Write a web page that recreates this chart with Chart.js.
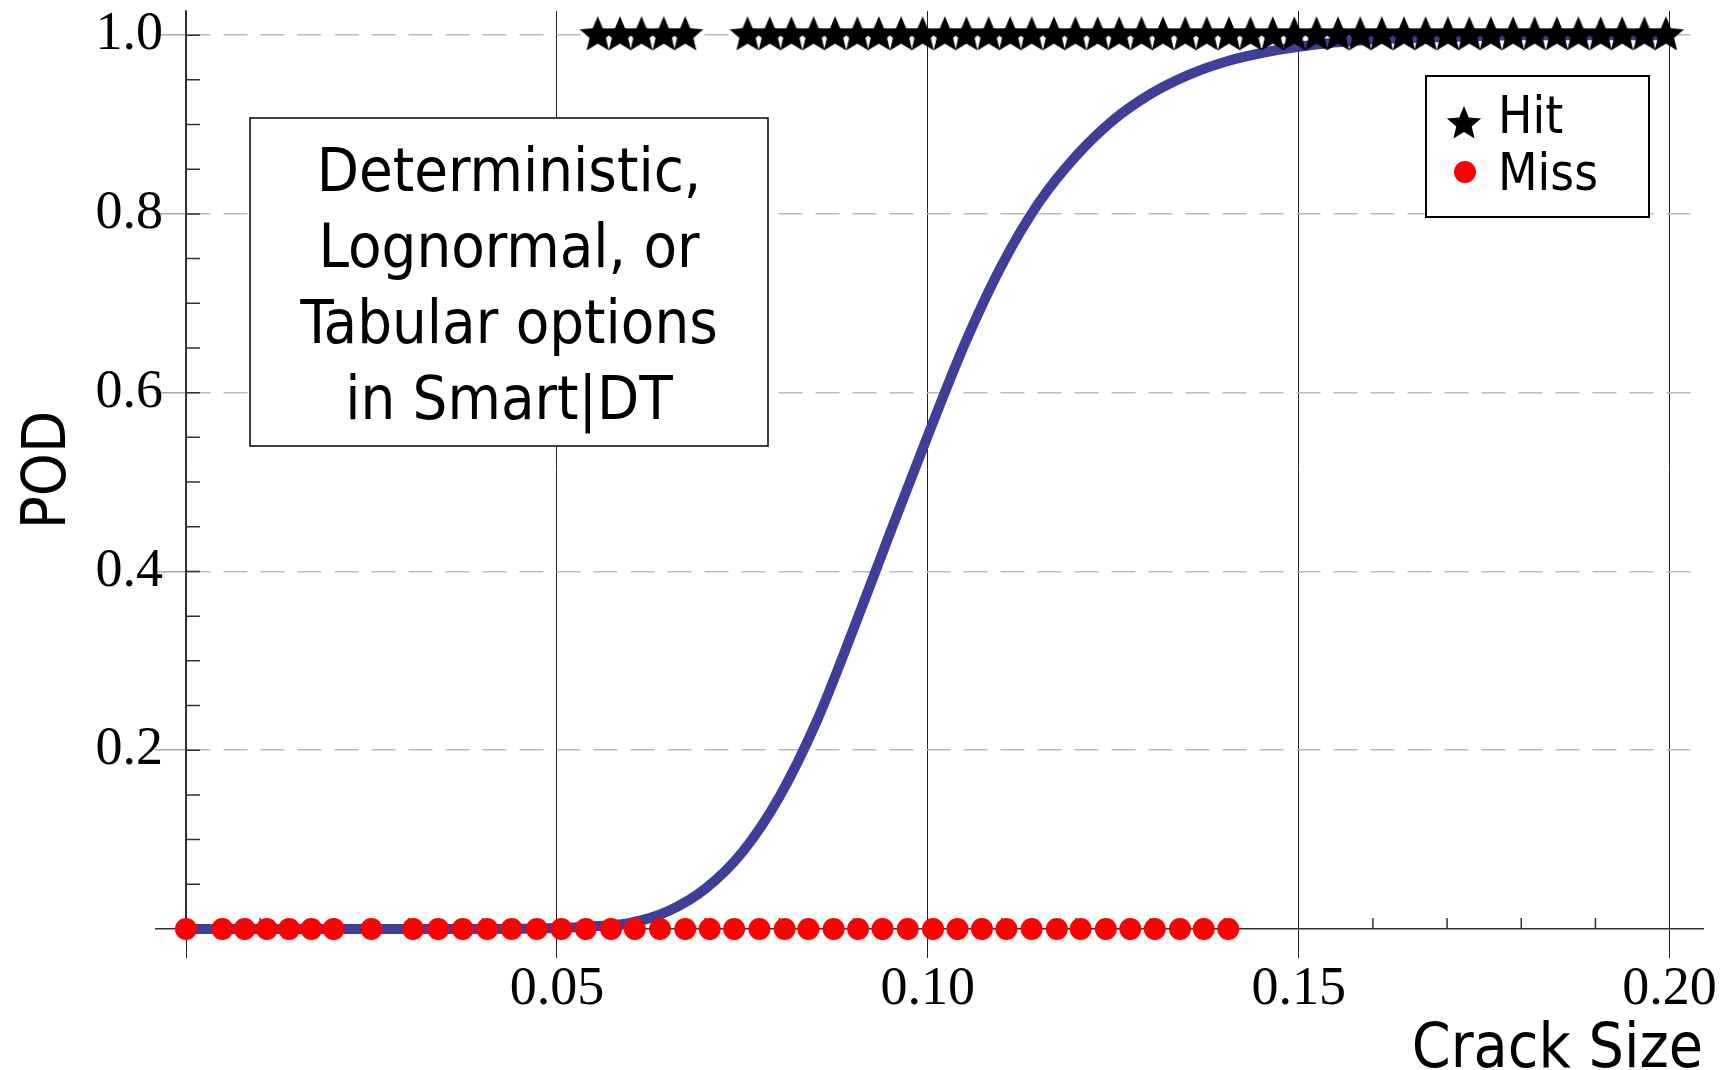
<!DOCTYPE html>
<html>
<head>
<meta charset="utf-8">
<script src="https://cdn.jsdelivr.net/npm/chart.js@4"></script>
<style>
  html, body { margin: 0; padding: 0; background: #fff; }
  canvas { display: block; }
</style>
</head>
<body>
<canvas id="podChart" width="1728" height="1070"></canvas>
<script>
// crack sizes that were missed (POD = 0) and hit (POD = 1)
const missSizes = [0, 0.0049, 0.0079, 0.0109, 0.0139, 0.0169, 0.0199, 0.0250, 0.0306, 0.0340,
    0.0373, 0.0406, 0.0439, 0.0473, 0.0506, 0.0539, 0.0573, 0.0605, 0.0639, 0.0673,
    0.0706, 0.0739, 0.0773, 0.0807, 0.0839, 0.0873, 0.0906, 0.0939, 0.0973, 0.1007,
    0.1040, 0.1073, 0.1106, 0.1140, 0.1174, 0.1206, 0.1240, 0.1273, 0.1306, 0.1340,
    0.1372, 0.1405];
const hitSizes = [0.0555, 0.0585, 0.0614, 0.0644, 0.0673,
    0.0757, 0.0787, 0.0816, 0.0846, 0.0875, 0.0905, 0.0934, 0.0964, 0.0993, 0.1023,
    0.1052, 0.1082, 0.1111, 0.1140, 0.1170, 0.1199, 0.1229, 0.1258, 0.1288, 0.1317,
    0.1347, 0.1376, 0.1406, 0.1435, 0.1465, 0.1494, 0.1524, 0.1553, 0.1583, 0.1612,
    0.1642, 0.1671, 0.1701, 0.1730, 0.1759, 0.1789, 0.1818, 0.1848, 0.1877, 0.1907,
    0.1936, 0.1966, 0.1995];

// POD curve
const curveSizes = [0, 0.01, 0.02, 0.03, 0.04, 0.05, 0.055, 0.06, 0.065, 0.07, 0.075, 0.08,
    0.085, 0.09, 0.095, 0.10, 0.105, 0.11, 0.115, 0.12, 0.125, 0.13, 0.135, 0.14, 0.145,
    0.15, 0.16, 0.17, 0.18, 0.19, 0.20];
const curvePOD = [0, 0, 0, 0, 0, 0.001, 0.003, 0.007, 0.02, 0.045, 0.086, 0.148,
    0.232, 0.336, 0.445, 0.552, 0.655, 0.743, 0.813, 0.865, 0.905, 0.934, 0.955, 0.97, 0.98,
    0.987, 0.995, 0.998, 1.0, 1.0, 1.0];

const noteLines = ['Deterministic,', 'Lognormal, or', 'Tabular options', 'in Smart|DT'];

const sansFont = "'DejaVu Sans Condensed', 'DejaVu Sans', sans-serif";
const serifFont = "'Liberation Serif', 'DejaVu Serif', serif";

// filled five point star for the Hit markers
const makeStar = (R) => {
    const c = document.createElement('canvas');
    c.width = c.height = 2 * R + 2;
    const g = c.getContext('2d');
    const r = R * 0.45;
    g.beginPath();
    for (let i = 0; i < 10; i++) {
        const rad = i % 2 ? r : R;
        const a = -Math.PI / 2 + i * Math.PI / 5;
        g.lineTo(R + 1 + rad * Math.cos(a), R + 1 + rad * Math.sin(a));
    }
    g.closePath();
    g.fillStyle = '#000';
    g.fill();
    return c;
};
const starMark = makeStar(19);
const legendStar = makeStar(18);

const isZero = (v) => Math.abs(v) < 1e-9;

// minor ticks, note box and legend box
const decorations = {
    id: 'decorations',
    beforeDatasetsDraw(chart) {
        const { ctx, chartArea, scales: { x, y } } = chart;
        ctx.save();
        ctx.strokeStyle = '#333';
        ctx.lineWidth = 1.5;
        ctx.beginPath();
        for (let k = 1; k <= 20; k++) {
            if (k % 5 === 0) continue;
            const px = x.getPixelForValue(k / 100);
            ctx.moveTo(px, chartArea.bottom);
            ctx.lineTo(px, chartArea.bottom - 11);
        }
        for (let k = 1; k <= 20; k++) {
            const py = y.getPixelForValue(k * 0.05);
            ctx.moveTo(chartArea.left, py);
            ctx.lineTo(chartArea.left + 14, py);
        }
        ctx.stroke();

        // note box
        ctx.fillStyle = '#fff';
        ctx.fillRect(250, 118, 518, 328);
        ctx.strokeStyle = '#000';
        ctx.lineWidth = 1.5;
        ctx.strokeRect(250, 118, 518, 328);
        ctx.fillStyle = '#000';
        ctx.font = '61px ' + sansFont;
        ctx.textAlign = 'center';
        ctx.textBaseline = 'middle';
        noteLines.forEach((line, i) => {
            ctx.fillText(line, 509, 175 + i * 76);
        });
        ctx.restore();
    },
    afterDatasetsDraw(chart) {
        const { ctx } = chart;
        const ds = chart.data.datasets;
        ctx.save();
        ctx.fillStyle = '#fff';
        ctx.fillRect(1426, 76, 223, 141);
        ctx.strokeStyle = '#000';
        ctx.lineWidth = 2;
        ctx.strokeRect(1426, 76, 223, 141);
        ctx.drawImage(legendStar, 1464 - legendStar.width / 2, 124 - legendStar.height / 2);
        ctx.beginPath();
        ctx.arc(1465, 172, 11, 0, Math.PI * 2);
        ctx.fillStyle = ds[1].backgroundColor;
        ctx.fill();
        ctx.fillStyle = '#000';
        ctx.font = '51px ' + sansFont;
        ctx.textAlign = 'left';
        ctx.textBaseline = 'alphabetic';
        ctx.fillText(ds[0].label, 1498, 133);
        ctx.fillText(ds[1].label, 1498, 190);
        ctx.restore();
    }
};

new Chart(document.getElementById('podChart'), {
    type: 'scatter',
    data: {
        datasets: [
            {
                label: 'Hit',
                data: hitSizes.map(v => ({ x: v, y: 1 })),
                pointStyle: starMark,
                clip: false
            },
            {
                label: 'Miss',
                data: missSizes.map(v => ({ x: v, y: 0 })),
                backgroundColor: '#ff0000',
                borderWidth: 0,
                pointRadius: 11,
                clip: false
            },
            {
                label: 'POD',
                data: curveSizes.map((v, i) => ({ x: v, y: curvePOD[i] })),
                showLine: true,
                borderColor: '#3f3f9a',
                borderWidth: 10,
                pointRadius: 0,
                cubicInterpolationMode: 'monotone',
                clip: false
            }
        ]
    },
    options: {
        responsive: false,
        animation: false,
        devicePixelRatio: 1,
        layout: { padding: { left: 0, top: 9, right: 25, bottom: 0 } },
        plugins: {
            legend: { display: false },
            tooltip: { enabled: false }
        },
        scales: {
            x: {
                type: 'linear',
                min: 0,
                max: 0.2045,
                afterFit: (s) => { s.height = 141; },
                border: { color: '#333', width: 1.5 },
                grid: { color: '#222', lineWidth: 1, tickLength: 29, tickColor: '#222' },
                ticks: {
                    stepSize: 0.05,
                    includeBounds: false,
                    autoSkip: false,
                    maxRotation: 0,
                    padding: -1,
                    color: '#000',
                    font: { family: serifFont, size: 54 },
                    callback: (v) => isZero(v) ? '' : v.toFixed(2)
                },
                title: {
                    display: true,
                    text: 'Crack Size',
                    align: 'end',
                    color: '#000',
                    padding: 0,
                    font: { family: sansFont, size: 62, lineHeight: 0.62 }
                }
            },
            y: {
                min: 0,
                max: 1.027,
                afterFit: (s) => { s.width = 186; },
                border: { color: '#333', width: 1.5, dash: [24, 13] },
                grid: {
                    color: (c) => isZero(c.tick.value) ? 'rgba(0,0,0,0)' : '#bbb',
                    lineWidth: 1.5,
                    tickLength: 31,
                    tickColor: (c) => isZero(c.tick.value) ? '#333' : '#aaa',
                    tickBorderDash: []
                },
                ticks: {
                    stepSize: 0.2,
                    includeBounds: false,
                    padding: -8,
                    color: '#000',
                    font: { family: serifFont, size: 54, lineHeight: 0.5 },
                    callback: (v) => isZero(v) ? '' : v.toFixed(1)
                },
                title: {
                    display: true,
                    text: 'POD',
                    color: '#000',
                    padding: { top: 13, bottom: 0 },
                    font: { family: sansFont, size: 61 }
                }
            }
        }
    },
    plugins: [decorations]
});
</script>
</body>
</html>
